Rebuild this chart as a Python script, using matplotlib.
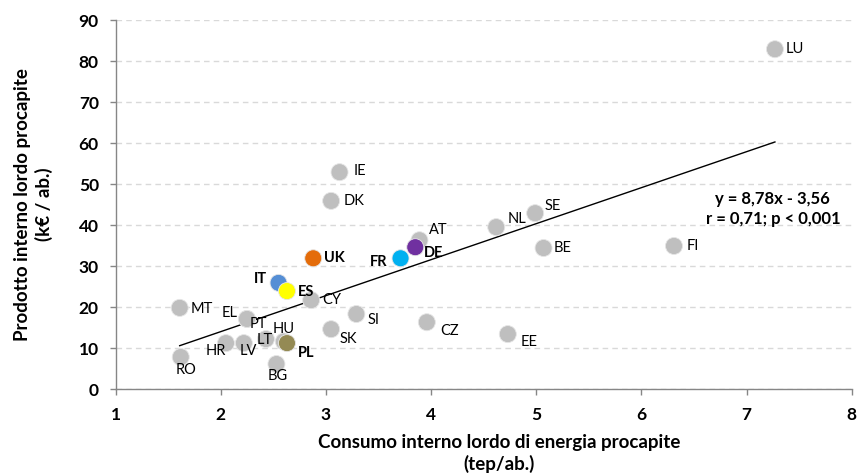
import matplotlib
matplotlib.use("Agg")
import matplotlib.pyplot as plt
import numpy as np

plt.rcParams['font.family'] = ['Lato', 'DejaVu Sans']
plt.rcParams['font.weight'] = 'bold'

countries = ['LU', 'IE', 'DK', 'AT', 'NL', 'SE', 'BE', 'FI', 'CY', 'MT', 'EL', 'PT',
             'SI', 'CZ', 'EE', 'SK', 'HR', 'LV', 'LT', 'HU', 'BG', 'RO',
             'UK', 'DE', 'FR', 'IT', 'ES', 'PL']
energy = [7.27, 3.13, 3.05, 3.89, 4.62, 4.99, 5.07, 6.31, 2.86, 1.61, 2.25, 2.25,
          3.29, 3.96, 4.73, 3.05, 2.05, 2.22, 2.43, 2.60, 2.53, 1.62,
          2.88, 3.85, 3.71, 2.55, 2.63, 2.63]
gdp = [82.9, 52.9, 45.9, 36.3, 39.5, 42.9, 34.4, 34.9, 21.7, 19.8, 17.1, 17.1,
       18.3, 16.3, 13.4, 14.6, 11.2, 11.2, 12.2, 11.6, 6.1, 7.8,
       31.9, 34.6, 31.9, 25.9, 23.9, 11.2]
colors = ['#BFBFBF'] * 22 + ['#E46C0A', '#7030A0', '#00B0F0', '#558ED5', '#FFFF00', '#948A54']
highlight = ['UK', 'DE', 'FR', 'IT', 'ES', 'PL']

slope, intercept = 8.78, -3.56

label_offsets = {
    'LU': (8, -5), 'IE': (10, -4), 'DK': (9, -5), 'AT': (7, 2), 'NL': (8, 1),
    'SE': (7, 0), 'BE': (7, -5), 'FI': (9, -5), 'CY': (8, -5), 'MT': (8, -6),
    'EL': (-18, -1), 'PT': (2, -9), 'SI': (8, -9), 'CZ': (10, -11), 'EE': (9, -11),
    'SK': (6, -12), 'HR': (-15, -11), 'LV': (-3, -11), 'LT': (-7, -6), 'HU': (-8, 4),
    'BG': (-6, -14), 'RO': (-4, -14),
    'UK': (8, -5), 'DE': (6, -9), 'FR': (-22, -8), 'IT': (-18, -2), 'ES': (8, -6),
    'PL': (8, -12),
}

fig = plt.figure(figsize=(8.59, 4.73), dpi=100)
ax = fig.add_axes([0.1345, 0.1775, 0.857, 0.780])

ax.set_xlim(1, 8)
ax.set_ylim(0, 90)
ax.set_xticks(np.arange(1, 9))
ax.set_yticks(np.arange(0, 91, 10))
ax.yaxis.grid(True, color='#D9D9D9', linestyle=(0, (4, 3)), linewidth=1)
ax.set_axisbelow(True)

for s in ['top', 'right']:
    ax.spines[s].set_visible(False)
for s in ['left', 'bottom']:
    ax.spines[s].set_color('#868686')
    ax.spines[s].set_linewidth(1)
ax.tick_params(axis='both', colors='#868686', length=4, width=1,
               labelcolor='black', labelsize=12.5)
ax.tick_params(axis='x', pad=9)
ax.tick_params(axis='y', pad=8)

xs = np.array([min(energy), max(energy)])
ax.plot(xs, slope * xs + intercept, color='black', linewidth=1, zorder=2)

ax.scatter(energy, gdp, s=150, c=colors, edgecolors='#E6E6E6', linewidths=0.6, zorder=3)

for c, x, y in zip(countries, energy, gdp):
    dx, dy = label_offsets[c]
    ax.annotate(c, (x, y), xytext=(dx, dy), textcoords='offset points',
                fontsize=10.5, fontweight='bold' if c in highlight else 'normal',
                color='black', ha='left', va='bottom', zorder=4)

ax.text(7.25, 43.9, 'y = 8,78x - 3,56\nr = 0,71; p < 0,001', ha='center', va='center',
        multialignment='center', fontsize=12, fontweight='bold', linespacing=1.3)

fig.text(0.581, 0.042, 'Consumo interno lordo di energia procapite\n(tep/ab.)',
         ha='center', va='center', multialignment='center', fontsize=13.5,
         fontweight='bold', linespacing=1.25)
fig.text(0.039, 0.568, 'Prodotto interno lordo procapite\n(k€ / ab.)',
         ha='center', va='center', multialignment='center', rotation=90,
         fontsize=13.5, fontweight='bold', linespacing=1.25)

fig.savefig('out.png', dpi=100)
